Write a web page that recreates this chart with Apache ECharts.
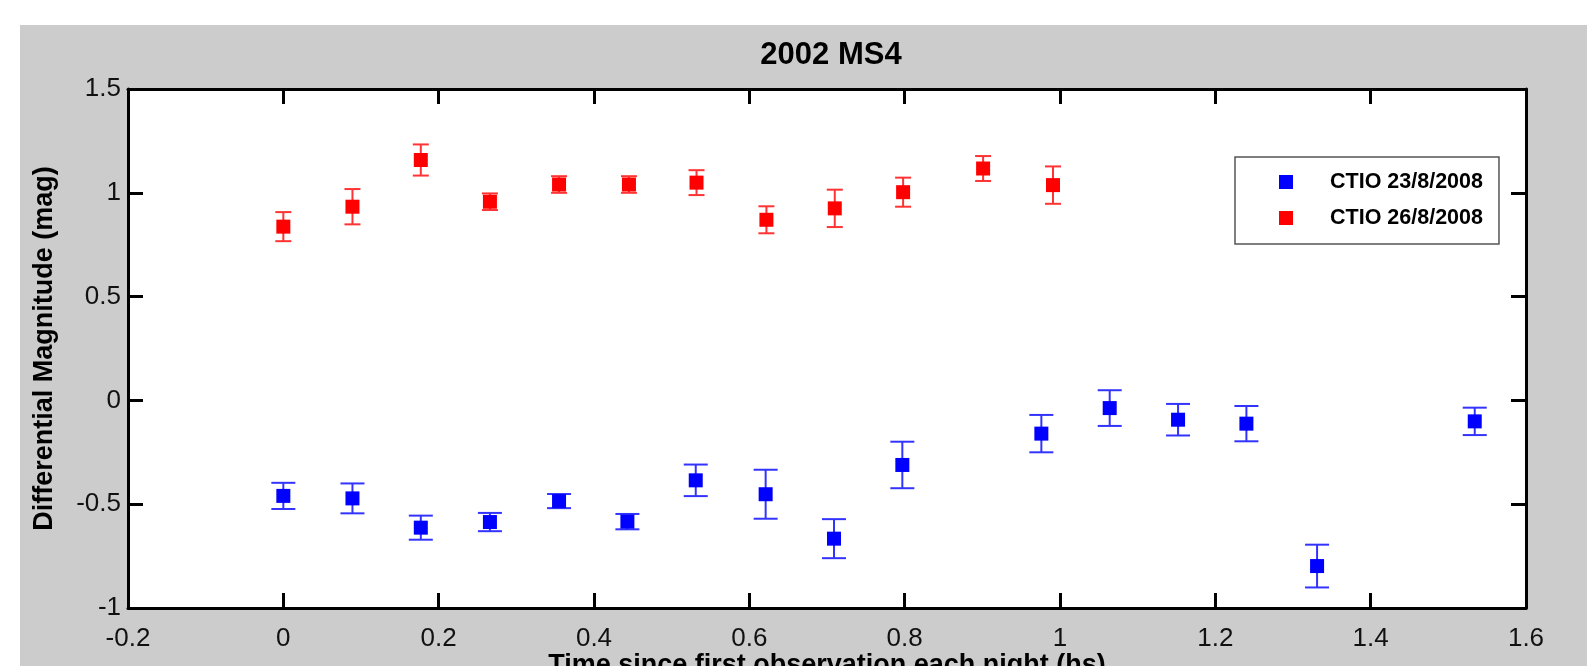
<!DOCTYPE html>
<html>
<head>
<meta charset="utf-8">
<script src="https://cdn.jsdelivr.net/npm/echarts@6/dist/echarts.min.js"></script>
<style>
html,body{margin:0;padding:0;background:#ffffff;}
#chart{width:1587px;height:666px;}
</style>
</head>
<body>
<div id="chart"></div>
<script>
// Data
const blueName = 'CTIO 23/8/2008';
const blueX = [0.0, 0.089, 0.177, 0.266, 0.355, 0.443, 0.531, 0.621, 0.709, 0.797, 0.976, 1.064, 1.152, 1.24, 1.331, 1.534];
const blueY = [-0.46, -0.472, -0.613, -0.586, -0.485, -0.584, -0.385, -0.452, -0.666, -0.311, -0.16, -0.037, -0.093, -0.112, -0.798, -0.101];
const blueErr = [0.063, 0.072, 0.058, 0.044, 0.034, 0.037, 0.076, 0.118, 0.094, 0.112, 0.09, 0.086, 0.076, 0.085, 0.103, 0.066];

const redName = 'CTIO 26/8/2008';
const redX = [0.0, 0.089, 0.177, 0.266, 0.355, 0.445, 0.532, 0.622, 0.710, 0.798, 0.901, 0.991];
const redY = [0.837, 0.933, 1.158, 0.957, 1.040, 1.040, 1.049, 0.870, 0.925, 1.003, 1.117, 1.037];
const redErr = [0.07, 0.085, 0.075, 0.04, 0.04, 0.04, 0.06, 0.065, 0.09, 0.07, 0.06, 0.09];

const titleText = '2002 MS4';
const xName = 'Time since first observation each night (hs)';
const yName = 'Differential Magnitude (mag)';

const FONT = '"Liberation Sans", Arial, Helvetica, sans-serif';

function errData(xs, ys, es) {
  return xs.map((x, i) => [x, ys[i], es[i]]);
}
function ptData(xs, ys) {
  return xs.map((x, i) => [x, ys[i]]);
}
function errRenderer(color, capHalf) {
  return function (params, api) {
    const x = api.value(0), y = api.value(1), e = api.value(2);
    const top = api.coord([x, y + e]);
    const bot = api.coord([x, y - e]);
    const st = { stroke: color, lineWidth: 2 };
    return {
      type: 'group',
      children: [
        { type: 'line', shape: { x1: top[0], y1: top[1], x2: bot[0], y2: bot[1] }, style: st },
        { type: 'line', shape: { x1: top[0] - capHalf, y1: top[1], x2: top[0] + capHalf, y2: top[1] }, style: st },
        { type: 'line', shape: { x1: bot[0] - capHalf, y1: bot[1], x2: bot[0] + capHalf, y2: bot[1] }, style: st }
      ]
    };
  };
}

const chart = echarts.init(document.getElementById('chart'), null, { renderer: 'canvas' });

const axisCommon = {
  axisLine: { show: true, onZero: false, lineStyle: { color: '#000', width: 3 } },
  axisTick: { show: true, inside: true, length: 15, lineStyle: { color: '#000', width: 3 } },
  splitLine: { show: false }
};

chart.setOption({
  animation: false,
  backgroundColor: '#ffffff',
  graphic: [
    { type: 'rect', left: 20, top: 25, shape: { width: 1567, height: 641 }, style: { fill: '#cccccc' }, z: -10, silent: true }
  ],
  title: {
    text: titleText,
    left: 826, top: 35, textAlign: 'center',
    textStyle: { fontFamily: FONT, fontWeight: 'bold', fontSize: 31, color: '#000' }
  },
  grid: { left: 128, right: 61, top: 89, bottom: 58, show: true, backgroundColor: '#ffffff', borderWidth: 0, containLabel: false, outerBoundsMode: 'none' },
  legend: {
    orient: 'vertical',
    left: 1235, top: 157,
    data: [
      { name: blueName, icon: 'rect', itemStyle: { color: '#0000ff' } },
      { name: redName, icon: 'rect', itemStyle: { color: '#ff0000' } }
    ],
    itemWidth: 14, itemHeight: 14, itemGap: 14,
    padding: [14, 16, 15, 44],
    backgroundColor: '#ffffff',
    borderColor: '#555555', borderWidth: 1.5,
    textStyle: { fontFamily: FONT, fontWeight: 'bold', fontSize: 21.5, color: '#000', lineHeight: 21, padding: [0, 0, 0, 32] }
  },
  xAxis: [
    Object.assign({
      type: 'value', min: -0.2, max: 1.6, interval: 0.2, position: 'bottom',
      name: xName, nameLocation: 'middle', nameGap: 44, nameMoveOverlap: false,
      nameTextStyle: { fontFamily: FONT, fontWeight: 'bold', fontSize: 27, color: '#000' },
      axisLabel: { fontFamily: FONT, fontSize: 26, color: '#111', margin: 18 }
    }, axisCommon),
    Object.assign({
      type: 'value', min: -0.2, max: 1.6, interval: 0.2, position: 'top',
      axisLabel: { show: false }
    }, axisCommon)
  ],
  yAxis: [
    Object.assign({
      type: 'value', min: -1, max: 1.5, interval: 0.5, position: 'left',
      name: yName, nameLocation: 'middle', nameGap: 70, nameMoveOverlap: false,
      nameTextStyle: { fontFamily: FONT, fontWeight: 'bold', fontSize: 27, color: '#000' },
      axisLabel: { fontFamily: FONT, fontSize: 26, color: '#111', margin: 7 }
    }, axisCommon),
    Object.assign({
      type: 'value', min: -1, max: 1.5, interval: 0.5, position: 'right',
      axisLabel: { show: false }
    }, axisCommon)
  ],
  series: [
    {
      name: blueName, type: 'custom', xAxisIndex: 0, yAxisIndex: 0,
      itemStyle: { color: '#0000ff' },
      renderItem: errRenderer('#3333ff', 12),
      data: errData(blueX, blueY, blueErr), z: 2
    },
    {
      name: blueName, type: 'scatter', xAxisIndex: 0, yAxisIndex: 0,
      symbol: 'rect', symbolSize: 14,
      itemStyle: { color: '#0000ff', opacity: 1 },
      data: ptData(blueX, blueY), z: 3
    },
    {
      name: redName, type: 'custom', xAxisIndex: 0, yAxisIndex: 0,
      itemStyle: { color: '#ff0000' },
      renderItem: errRenderer('#ff3333', 8),
      data: errData(redX, redY, redErr), z: 2
    },
    {
      name: redName, type: 'scatter', xAxisIndex: 0, yAxisIndex: 0,
      symbol: 'rect', symbolSize: 14,
      itemStyle: { color: '#ff0000', opacity: 1 },
      data: ptData(redX, redY), z: 3
    }
  ]
});
</script>
</body>
</html>
